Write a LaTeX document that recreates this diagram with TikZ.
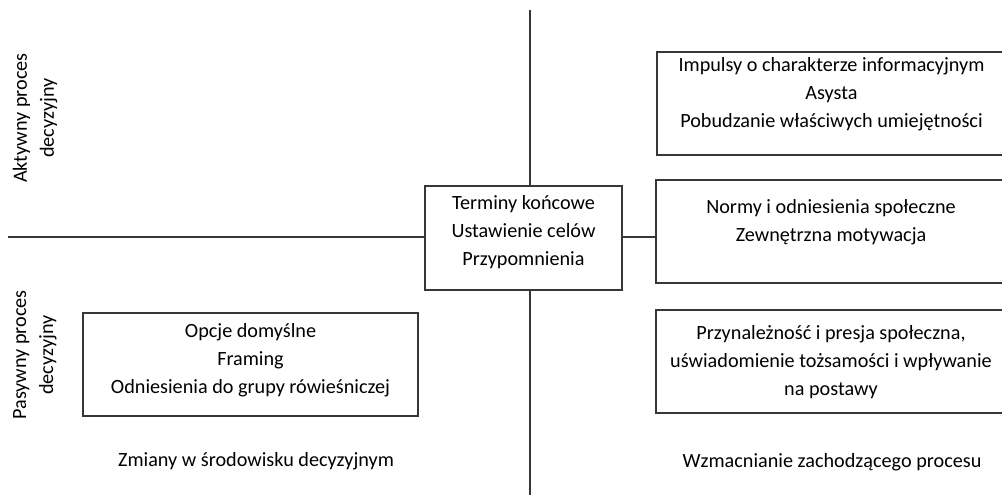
\documentclass[tikz,border=0pt]{standalone}
\usepackage{fontspec}
\setmainfont{Carlito}
\newcommand\bxtxt[4]{\parbox[c][#1][t]{#2}{\centering\rule{0pt}{#3}#4}}
\definecolor{ink}{RGB}{55,55,55}
\begin{document}
\begin{tikzpicture}[x=1pt,y=-1pt,
  every node/.style={font=\fontsize{20.2}{28}\selectfont, text=black},
  box/.style={draw=ink, line width=1.5pt, inner sep=0pt, rectangle},
  ln/.style={draw=ink, line width=1.5pt},
  side/.style={rotate=90, align=center, font=\fontsize{20.2}{27}\selectfont}]
\useasboundingbox[fill=white] (0,0) rectangle (1002,495);

\node[box] (b1) at (831.5,103.5) {\bxtxt{103pt}{349pt}{20pt}{Impulsy o charakterze informacyjnym\\Asysta\\Pobudzanie właściwych umiejętności}};
\node[box] (b2) at (831,231.5) {\bxtxt{103pt}{350pt}{33pt}{Normy i odniesienia społeczne\\Zewnętrzna motywacja}};
\node[box] (b3) at (831,361.5) {\bxtxt{103pt}{350pt}{29pt}{Przynależność i presja społeczna,\\uświadomienie tożsamości i wpływanie\\na postawy}};
\node[box] (c) at (523.5,238) {\bxtxt{104pt}{197pt}{23pt}{Terminy końcowe\\Ustawienie celów\\Przypomnienia}};
\node[box] (l) at (250.5,364.5) {\bxtxt{103pt}{335pt}{24pt}{Opcje domyślne\\Framing\\Odniesienia do grupy rówieśniczej}};

\node[anchor=base] (zl) at (256,466) {Zmiany w środowisku decyzyjnym};
\node[anchor=base] (zr) at (832,467) {Wzmacnianie zachodzącego procesu};

\node[side] (ak) at (35,118) {Aktywny proces\\decyzyjny};
\node[side] (pa) at (35,355) {Pasywny proces\\decyzyjny};

\coordinate (vt) at (530,10);
\coordinate (vb) at (530,495);
\coordinate (hl) at (8,237);
\draw[ln] (vt) -- (vt |- c.north);
\draw[ln] (vb |- c.south) -- (vb);
\draw[ln] (hl) -- (hl -| c.west);
\draw[ln] (c.east |- hl) -- (hl -| b2.west);
\end{tikzpicture}
\end{document}
